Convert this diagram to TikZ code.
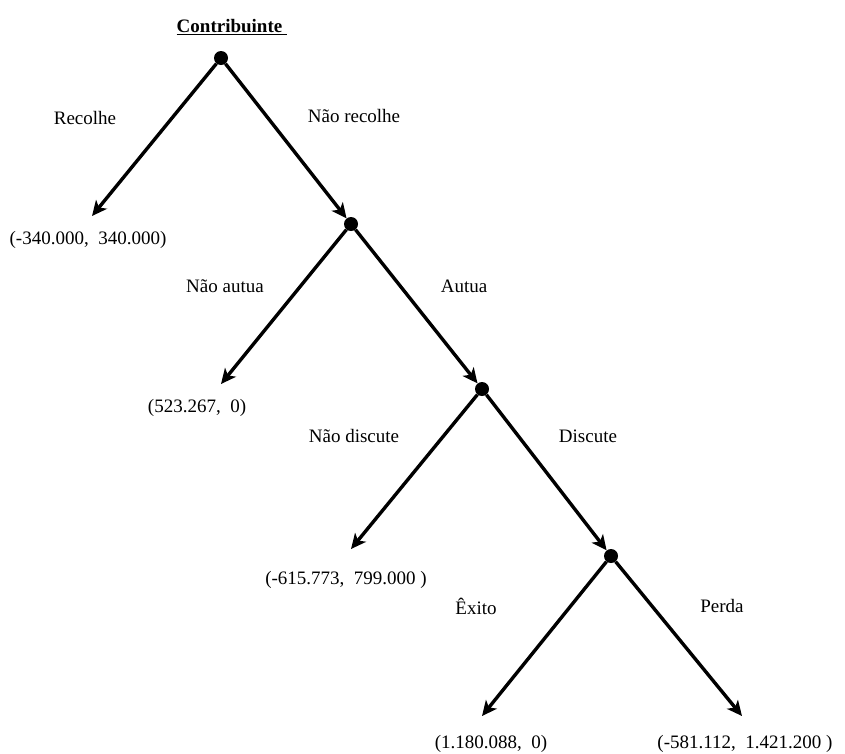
\documentclass[tikz,border=0pt]{standalone}
\usepackage{fontspec}
\setmainfont{Liberation Serif}
\usetikzlibrary{arrows.meta}
\begin{document}
\begin{tikzpicture}[x=1pt,y=-1pt,
  dot/.style={circle,fill=black,inner sep=0pt,minimum size=14pt},
  edge/.style={line width=3.4pt,-{Stealth[length=15pt,width=14pt,inset=4pt]}},
  lbl/.style={font=\fontsize{19}{22}\selectfont,inner sep=0pt},
  pay/.style={font=\fontsize{19}{22}\selectfont,inner sep=0pt}]
\useasboundingbox (0,0) rectangle (845,753);
\node[lbl] (title) at (232,27) {\underline{\textbf{Contribuinte}\hspace{5pt}}};
\node[dot] (n1) at (221,58) {};
\node[dot] (n2) at (351,224) {};
\node[dot] (n3) at (482,389) {};
\node[dot] (n4) at (611,556) {};
\coordinate (l1) at (92,216);
\coordinate (l2) at (221,384);
\coordinate (l3) at (351,549);
\coordinate (l4) at (482,716);
\coordinate (r4) at (742,716);
\draw[edge] (n1) -- (l1);
\draw[edge] (n1) -- (n2);
\draw[edge] (n2) -- (l2);
\draw[edge] (n2) -- (n3);
\draw[edge] (n3) -- (l3);
\draw[edge] (n3) -- (n4);
\draw[edge] (n4) -- (l4);
\draw[edge] (n4) -- (r4);
\node[lbl] (a1) at (85,118) {Recolhe};
\node[lbl] (a2) at (354,116) {Não recolhe};
\node[lbl] (a3) at (225,286) {Não autua};
\node[lbl] (a4) at (464,286) {Autua};
\node[lbl] (a5) at (354,436) {Não discute};
\node[lbl] (a6) at (588,436) {Discute};
\node[lbl] (a7) at (476,606) {Êxito};
\node[lbl] (a8) at (722,606) {Perda};
\node[pay] (p1) at (88,240) {(-340.000,\ \ 340.000)};
\node[pay] (p2) at (197,408) {(523.267,\ \ 0)};
\node[pay] (p3) at (346,580) {(-615.773,\ \ 799.000\ )};
\node[pay] (p4) at (491,744) {(1.180.088,\ \ 0)};
\node[pay] (p5) at (745,744) {(-581.112,\ \ 1.421.200\ )};
\end{tikzpicture}
\end{document}
